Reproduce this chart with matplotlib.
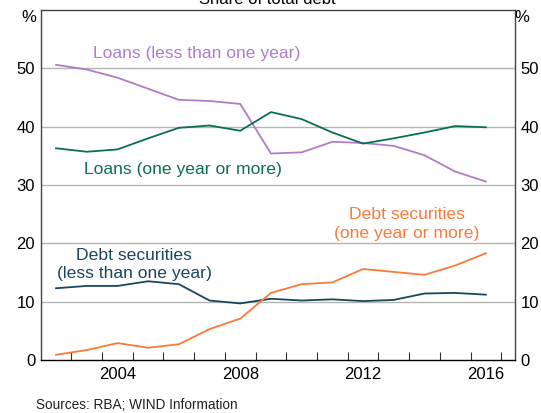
import matplotlib
matplotlib.use("Agg")
import matplotlib.pyplot as plt
import numpy as np

plt.rcParams['font.family'] = ['Liberation Sans', 'DejaVu Sans']

years = list(range(2002, 2017))
loans_short = [50.6, 49.8, 48.4, 46.5, 44.6, 44.4, 43.9, 35.4, 35.6, 37.4, 37.2, 36.7, 35.1, 32.3, 30.6]
loans_long = [36.3, 35.7, 36.1, 38.0, 39.8, 40.2, 39.3, 42.5, 41.3, 39.0, 37.1, 38.0, 39.0, 40.1, 39.9]
debt_short = [12.3, 12.7, 12.7, 13.5, 13.0, 10.2, 9.7, 10.5, 10.2, 10.4, 10.1, 10.3, 11.4, 11.5, 11.2]
debt_long = [0.9, 1.7, 2.9, 2.1, 2.7, 5.3, 7.1, 11.5, 13.0, 13.3, 15.6, 15.1, 14.6, 16.2, 18.3]
year_labels = [2004, 2008, 2012, 2016]
y_ticks = [0, 10, 20, 30, 40, 50]

c_purple = '#b07cc6'
c_green = '#0b6e55'
c_teal = '#17485a'
c_orange = '#f97a3a'

fig = plt.figure(figsize=(5.41, 4.13), dpi=100)
ax = fig.add_axes([0.0752, 0.1283, 0.8768, 0.8475])

x = np.array(years) + 0.5
lw = 1.3
ax.plot(x, loans_short, color=c_purple, lw=lw)
ax.plot(x, loans_long, color=c_green, lw=lw)
ax.plot(x, debt_short, color=c_teal, lw=lw)
ax.plot(x, debt_long, color=c_orange, lw=lw)

ax.set_xlim(2002.0, 2017.45)
ax.set_ylim(0, 60)

for v in y_ticks[1:]:
    ax.axhline(v, color='#b4b4b4', lw=1.0, zorder=0)

# x ticks: year boundaries as marks, labels at mid-year
ax.set_xticks(np.arange(2003, 2018))
ax.set_xticklabels([])
ax.tick_params(axis='x', which='major', direction='in', length=6, width=0.8, color='#333333')
ax.set_xticks([y + 0.5 for y in year_labels], minor=True)
ax.set_xticklabels([str(y) for y in year_labels], minor=True, fontsize=12)
ax.tick_params(axis='x', which='minor', length=0, pad=5)

ax.set_yticks(y_ticks)
ax.set_yticklabels([str(v) for v in y_ticks], fontsize=12)
ax.tick_params(axis='y', which='both', length=0, pad=4, labelleft=True, labelright=True)

for s in ax.spines.values():
    s.set_color('#444444')
    s.set_linewidth(1.0)
ax.spines['bottom'].set_color('#000000')

fs = 12.6
ax.text(2007.07, 52.6, 'Loans (less than one year)', color=c_purple, fontsize=fs, ha='center', va='center')
ax.text(2006.65, 32.6, 'Loans (one year or more)', color=c_green, fontsize=fs, ha='center', va='center')
ax.text(2005.05, 16.4, 'Debt securities\n(less than one year)', color=c_teal, fontsize=fs, ha='center', va='center', linespacing=1.3)
ax.text(2013.93, 23.3, 'Debt securities\n(one year or more)', color=c_orange, fontsize=fs, ha='center', va='center', linespacing=1.3)

fig.text(29/541, 1 - 18/413, '%', fontsize=12, ha='center', va='center')
fig.text(522/541, 1 - 18/413, '%', fontsize=12, ha='center', va='center')
fig.text(0.495, 1 - 4/413, 'Share of total debt', fontsize=12, ha='center', va='baseline')
fig.text(36/541, 1 - 405/413, 'Sources: RBA; WIND Information', fontsize=9.8, ha='left', va='center', color='#222222')

fig.savefig('out.png', dpi=100)
